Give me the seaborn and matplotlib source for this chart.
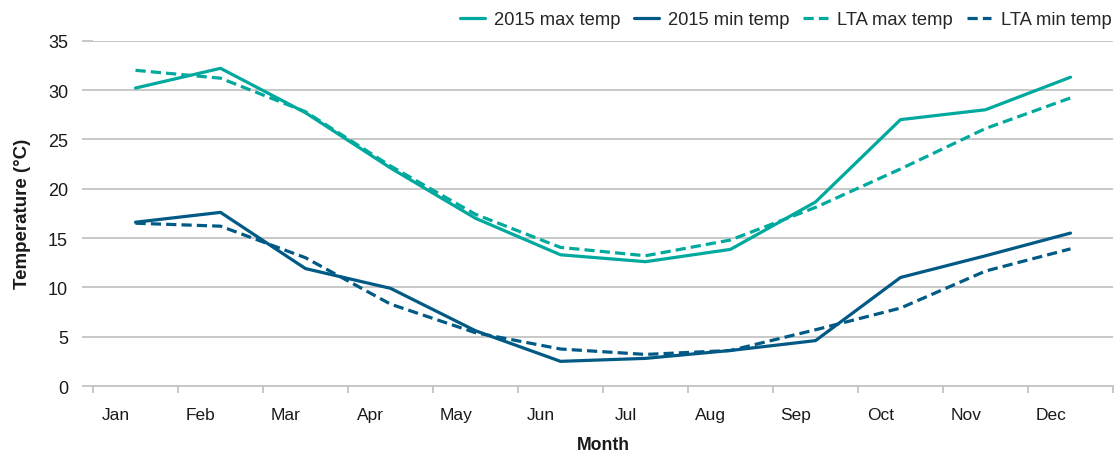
import matplotlib
matplotlib.use("Agg")
import matplotlib.pyplot as plt
import pandas as pd
import seaborn as sns

# data
months = ["Jan", "Feb", "Mar", "Apr", "May", "Jun", "Jul", "Aug", "Sep", "Oct", "Nov", "Dec"]
max_2015 = [30.2, 32.2, 27.7, 22.1, 17.0, 13.3, 12.6, 13.85, 18.65, 27.0, 28.0, 31.3]
min_2015 = [16.6, 17.6, 11.9, 9.9, 5.6, 2.5, 2.8, 3.6, 4.6, 11.0, 13.2, 15.5]
lta_max = [32.0, 31.2, 27.8, 22.3, 17.4, 14.05, 13.2, 14.8, 18.1, 22.0, 26.1, 29.2]
lta_min = [16.5, 16.2, 13.0, 8.3, 5.4, 3.75, 3.2, 3.6, 5.7, 7.9, 11.65, 13.9]
series_names = ["2015 max temp", "2015 min temp", "LTA max temp", "LTA min temp"]

teal = "#00a99d"
navy = "#005a85"
grid_col = "#c4c4c4"
text_col = "#1a1a1a"

rows = []
for name, vals in zip(series_names, [max_2015, min_2015, lta_max, lta_min]):
    for i, v in enumerate(vals):
        rows.append({"x": i, "temp": v, "series": name})
df = pd.DataFrame(rows)

sns.set_style("white")
plt.rcParams["font.family"] = ["Liberation Sans", "DejaVu Sans"]

fig = plt.figure(figsize=(11.15, 4.52), dpi=100)
ax = fig.add_axes([93 / 1115, 1 - 387 / 452, 1020 / 1115, (387 - 41.7) / 452])

sns.lineplot(data=df, x="x", y="temp", hue="series", style="series",
             hue_order=series_names, style_order=series_names,
             palette={"2015 max temp": teal, "2015 min temp": navy,
                      "LTA max temp": teal, "LTA min temp": navy},
             dashes={"2015 max temp": "", "2015 min temp": "",
                     "LTA max temp": (3.2, 1.6), "LTA min temp": (3.2, 1.6)},
             linewidth=2.3, ax=ax, legend=True)

ax.set_xlim(-0.5, 11.5)
ax.set_ylim(0, 35)
ax.set_yticks(range(0, 36, 5))
ax.yaxis.grid(True, color=grid_col, linewidth=1.3)
ax.set_axisbelow(True)
for s in ["top", "right", "left"]:
    ax.spines[s].set_visible(False)
ax.spines["bottom"].set_color(grid_col)
ax.spines["bottom"].set_linewidth(1.3)

# tick marks at category boundaries, labels slightly left of data points
ax.set_xticks([i - 0.5 for i in range(13)], minor=True)
ax.set_xticks([i - 0.23 for i in range(12)])
ax.set_xticklabels(months)
ax.tick_params(axis="x", which="major", bottom=True, length=0, pad=15, labelsize=12.5,
               colors=text_col)
ax.tick_params(axis="x", which="minor", bottom=True, length=5, width=1.3, color=grid_col,
               direction="out")
ax.tick_params(axis="y", left=True, length=8, width=1.3, color=grid_col, direction="out",
               pad=10, labelsize=13, labelcolor=text_col)

ax.set_xlabel("Month", fontsize=12.7, fontweight="bold", labelpad=10, color=text_col)
ax.set_ylabel("Temperature (\u00b0C)", fontsize=13.5, fontweight="bold", labelpad=12,
              color=text_col)

handles, labels = ax.get_legend_handles_labels()
ax.legend(handles, labels, loc="lower right", bbox_to_anchor=(1.002, 1.025), ncol=4,
          frameon=False, fontsize=13.2, handlelength=1.35, columnspacing=0.75,
          handletextpad=0.5, borderaxespad=0.0, borderpad=0.2)

fig.savefig("out.png", dpi=100)
